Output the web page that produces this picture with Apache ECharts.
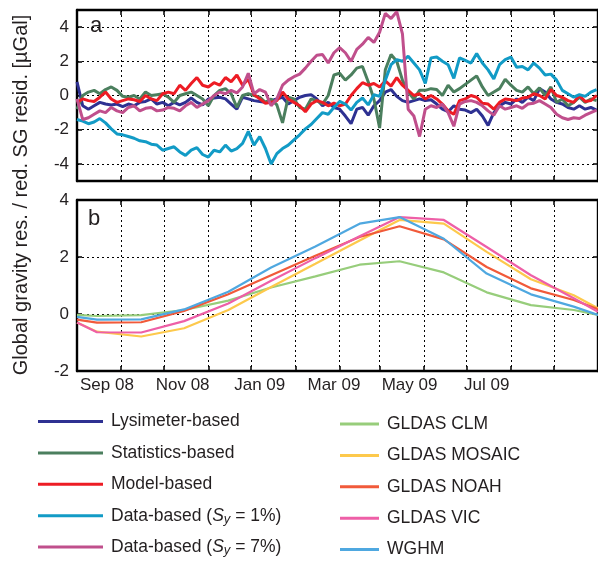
<!DOCTYPE html>
<html><head><meta charset="utf-8">
<script src="https://cdn.jsdelivr.net/npm/echarts@6/dist/echarts.min.js"></script>
<style>html,body{margin:0;padding:0;background:#fff}#c{width:598px;height:565px}</style>
</head><body><div id="c"></div>
<script>
// ---- Panel a: daily residuals (days since 1 Aug 2008) ----
const days = [0,4,8,12,16,20,24,28,32,36,40,44,48,52,56,60,64,68,72,76,80,84,88,92,96,100,104,108,112,116,120,124,128,132,136,140,144,148,152,156,160,164,168,172,176,180,184,188,192,196,200,204,208,212,216,220,224,228,232,236,240,244,248,252,256,260,264,268,272,276,280,284,288,292,296,300,304,308,312,316,320,324,328,332,336,340,344,348,352,356,360,364];
const lysimeter = [0.8,-0.6,-0.8,-0.6,-0.4,-0.5,-0.55,-0.5,-0.65,-0.5,-0.6,-0.4,-0.35,-0.2,-0.5,-0.4,-0.6,-0.4,-0.55,-0.4,-0.15,-0.4,-0.55,-0.2,-0.15,-0.1,-0.2,-0.5,-0.8,-0.1,-0.2,-0.3,-0.35,-0.4,-0.3,-0.2,-0.1,-0.5,-0.3,-0.1,0.0,0.05,-0.2,-0.6,-0.4,-0.7,-0.8,-1.2,-1.65,-0.8,-0.7,-1.15,-0.6,-0.3,0.2,0.35,-0.05,-0.3,-0.4,-0.3,-0.2,-0.3,-0.25,-0.5,-0.8,-0.95,-0.6,-0.8,-0.85,-1.0,-0.8,-1.2,-1.75,-1.0,-0.6,-0.4,-0.5,-0.2,-0.4,-0.1,-0.3,0.4,0.2,-0.2,-0.4,-0.5,-0.7,-0.8,-0.6,-0.8,-0.7,-0.85];
const statistics = [-0.8,0.0,0.2,0.3,0.1,0.35,0.5,0.3,-0.05,-0.1,0.0,-0.2,0.2,0.0,0.05,0.1,-0.1,-0.4,0.0,0.1,0.2,0.0,-0.2,-0.6,0.0,0.3,0.4,0.1,-0.7,0.0,0.1,0.0,-0.1,-0.4,-0.2,-0.55,-1.6,-0.1,-0.2,-0.7,-0.8,-0.2,-0.3,-0.5,0.0,1.2,1.3,0.9,1.2,1.6,1.7,0.8,-0.2,-1.9,1.5,2.4,2.0,0.9,0.2,-0.2,0.3,0.3,0.4,0.35,0.0,0.6,0.2,0.4,0.65,0.9,1.15,0.5,0.0,0.2,0.4,0.95,0.6,0.3,0.2,0.5,0.1,0.45,0.0,0.5,-0.4,-0.2,-0.6,-0.4,-0.1,-0.4,-0.2,-0.3];
const modelBased = [-0.4,-0.2,-0.3,-0.35,-0.1,0.2,-0.2,-0.4,-0.3,-0.2,-0.25,-0.35,0.0,-0.2,-0.3,0.1,0.2,0.1,0.6,0.3,0.7,1.05,0.6,0.5,0.75,0.6,1.05,0.8,1.2,0.6,0.95,0.05,-0.2,-0.45,-0.4,-0.3,0.2,-0.2,-0.4,-0.6,-0.95,-0.5,-0.3,-0.4,-0.6,-0.45,-0.6,-0.5,0.0,0.4,0.75,0.6,0.7,0.5,0.85,0.55,1.05,0.6,0.3,0.0,0.1,-0.2,0.0,-0.2,-0.5,-0.9,-1.1,-0.3,-0.2,0.0,-0.1,-0.45,-0.5,-0.8,-0.4,-0.2,-0.25,-0.3,-0.15,-0.1,0.1,0.0,-0.2,0.35,0.0,-0.1,-0.3,-0.4,0.0,-0.35,-0.3,0.0];
const dataSy1 = [-1.4,-1.5,-1.65,-1.55,-1.35,-1.6,-1.95,-2.25,-2.3,-2.4,-2.5,-2.65,-2.7,-2.85,-2.9,-3.2,-3.1,-3.0,-3.3,-3.5,-3.2,-3.05,-3.45,-3.6,-3.2,-3.3,-2.9,-3.25,-3.1,-2.8,-2.1,-2.9,-2.4,-3.1,-4.0,-3.4,-3.1,-2.9,-2.6,-2.3,-1.95,-1.7,-1.35,-1.0,-1.1,-0.7,-0.35,-0.5,-0.85,-0.4,-0.15,-0.55,0.05,-0.05,0.9,1.8,2.1,2.0,2.3,1.9,1.5,0.7,2.2,2.25,2.0,1.8,1.0,2.2,2.05,1.9,2.45,1.9,1.5,0.97,1.8,2.1,2.25,1.65,1.7,1.5,1.9,1.6,1.2,1.25,0.9,0.3,0.1,-0.1,0.05,-0.05,0.2,0.35];
const dataSy7 = [-0.2,-1.4,-1.3,-1.1,-0.9,-1.0,-0.7,-0.9,-1.0,-0.7,-0.6,-0.9,-0.75,-0.7,-0.9,-0.85,-0.7,-0.75,-0.9,-0.6,-0.4,-0.7,-0.5,-0.3,0.0,0.2,0.1,0.3,0.15,0.5,1.3,0.1,0.35,0.2,-0.6,-0.2,0.6,0.9,1.1,1.25,1.6,2.0,2.35,2.4,1.9,2.5,2.8,2.5,2.0,2.7,3.0,3.4,3.1,3.7,4.8,4.5,4.9,3.6,-0.8,-1.2,-2.4,-0.8,-0.6,-0.7,-0.5,-1.0,-1.8,-0.5,-0.35,-0.3,-0.4,-0.6,-0.9,-1.15,-0.6,-0.8,-0.7,-0.6,-0.75,-0.5,-0.45,-0.3,-0.5,-0.7,-1.1,-1.3,-1.4,-1.3,-1.35,-1.15,-1.0,-0.85];

// ---- Panel b: monthly global hydrology model results ----
const monthDays = [0,14,45,75,106,136,167,198,226,257,287,318,348,365];
const gldasClm    = [-0.03,-0.07,-0.04,0.14,0.47,0.93,1.32,1.73,1.85,1.46,0.76,0.31,0.14,-0.03];
const gldasMosaic = [-0.3,-0.62,-0.79,-0.5,0.14,0.95,1.76,2.58,3.30,3.17,2.18,1.22,0.66,0.2];
const gldasNoah   = [-0.2,-0.3,-0.29,0.11,0.69,1.36,2.04,2.70,3.08,2.62,1.65,0.90,0.49,0.17];
const gldasVic    = [-0.3,-0.64,-0.65,-0.25,0.37,1.17,1.96,2.73,3.40,3.30,2.35,1.36,0.55,0.08];
const wghm        = [-0.1,-0.2,-0.19,0.16,0.78,1.63,2.37,3.17,3.40,2.64,1.42,0.69,0.26,-0.03];

// ---- Axes ----
const monthStarts = [31,61,92,122,153,184,212,243,273,304,334];
const tickLabelPos = [21,74,128,180,233,287];
const tickLabels = ['Sep 08','Nov 08','Jan 09','Mar 09','May 09','Jul 09'];
const yTicksA = [-4,-2,0,2,4];

const FONT = "'Liberation Sans', Arial, Helvetica, sans-serif";
const TXT = '#231f20';
const chart = echarts.init(document.getElementById('c'), null, {renderer:'canvas'});

const border = {show:true, onZero:false, lineStyle:{color:'#000', width:2.4}};
const grid = {show:true, lineStyle:{color:'#000', width:1, type:[2,3]}};
function xAx(gi, pos, labels){
  return {gridIndex:gi, type:'value', min:0, max:365, position:pos,
    axisLine:border,
    axisTick:{show:true, inside:true, length:5, customValues:monthStarts, lineStyle:{color:'#000', width:1.5}},
    axisLabel: labels ? {show:true, customValues:tickLabelPos, margin:6, fontSize:17, color:TXT, fontFamily:FONT,
      formatter:v=>{const k=tickLabelPos.indexOf(v); return k>=0?tickLabels[k]:'';}} : {show:false},
    splitLine: pos==='bottom' ? grid : {show:false}};
}
function yAx(gi, pos, min, max, ticks, labels){
  return {gridIndex:gi, type:'value', min:min, max:max, position:pos,
    axisLine:border,
    axisTick:{show:true, inside:true, length:5, customValues:ticks, lineStyle:{color:'#000', width:1.5}},
    axisLabel: labels ? {show:true, customValues:ticks, margin:8, fontSize:17, color:TXT, fontFamily:FONT} : {show:false},
    splitLine: pos==='left' ? grid : {show:false}};
}
function lineA(name, color, vals){
  return {name, type:'line', xAxisIndex:0, yAxisIndex:0, symbol:'none', clip:true,
    lineStyle:{color, width:3}, itemStyle:{color},
    data: days.map((d,i)=>[d, vals[i]])};
}
function lineB(name, color, vals){
  return {name, type:'line', xAxisIndex:2, yAxisIndex:2, symbol:'none', clip:true,
    lineStyle:{color, width:2.2}, itemStyle:{color},
    data: monthDays.map((d,i)=>[d, vals[i]])};
}
const rich = {
  i:{fontStyle:'italic', fontSize:17.5, fontFamily:FONT, color:TXT, lineHeight:20},
  s:{fontStyle:'italic', fontSize:13, fontFamily:FONT, color:TXT, lineHeight:8, verticalAlign:'bottom'}
};
function legendFmt(n){
  const m = n.match(/^Data-based \(Sy = (\d+%)\)$/);
  if (m) return 'Data-based ({i|S}{s|y} = ' + m[1] + ')';
  return n;
}
const legendBase = {orient:'vertical', selectedMode:false, padding:0, icon:'rect', itemHeight:3, itemGap:11.4,
  height:170, formatter:legendFmt,
  textStyle:{fontSize:17.5, fontFamily:FONT, color:TXT, lineHeight:20, padding:[0,0,0,3], rich:rich}};

chart.setOption({
  animation:false,
  backgroundColor:'#fff',
  grid:[{left:77, right:-2, top:10, height:171},{left:77, right:-2, top:200, height:171}],
  xAxis:[xAx(0,'bottom',false), xAx(0,'top',false), xAx(1,'bottom',true), xAx(1,'top',false)],
  yAxis:[yAx(0,'left',-5,5,yTicksA,true), yAx(0,'right',-5,5,yTicksA,false),
         {...yAx(1,'left',-2,4,null,true), interval:2, axisTick:{show:true, inside:true, length:5, lineStyle:{color:'#000', width:1.5}}, axisLabel:{show:true, margin:8, fontSize:17, color:TXT, fontFamily:FONT}},
         {...yAx(1,'right',-2,4,null,false), interval:2, axisTick:{show:true, inside:true, length:5, lineStyle:{color:'#000', width:1.5}}}],
  legend:[
    {...legendBase, left:38, top:411.5, itemWidth:65,
      data:['Lysimeter-based','Statistics-based','Model-based','Data-based (Sy = 1%)','Data-based (Sy = 7%)']},
    {...legendBase, left:340, top:414, itemWidth:39,
      data:['GLDAS CLM','GLDAS MOSAIC','GLDAS NOAH','GLDAS VIC','WGHM']}
  ],
  graphic:[
    {type:'text', x:90, y:15, style:{text:'a', fontSize:22, fontFamily:FONT, fill:TXT}},
    {type:'text', x:88, y:208, style:{text:'b', fontSize:22, fontFamily:FONT, fill:TXT}},
    {type:'text', x:21, y:195, rotation:Math.PI/2,
      style:{text:'Global gravity res. / red. SG resid. [µGal]', fontSize:20, fontFamily:FONT, fill:TXT, align:'center', verticalAlign:'middle'}}
  ],
  series:[
    lineA('Lysimeter-based','#2e3192',lysimeter),
    lineA('Statistics-based','#4b7f5e',statistics),
    lineA('Model-based','#ed1c24',modelBased),
    lineA('Data-based (Sy = 1%)','#129bc6',dataSy1),
    lineA('Data-based (Sy = 7%)','#c04f8c',dataSy7),
    lineB('GLDAS CLM','#97cd7b',gldasClm),
    lineB('GLDAS MOSAIC','#fdc94c',gldasMosaic),
    lineB('GLDAS NOAH','#f15a3a',gldasNoah),
    lineB('GLDAS VIC','#ee5fa7',gldasVic),
    lineB('WGHM','#4fa8e0',wghm)
  ]
});
</script></body></html>
